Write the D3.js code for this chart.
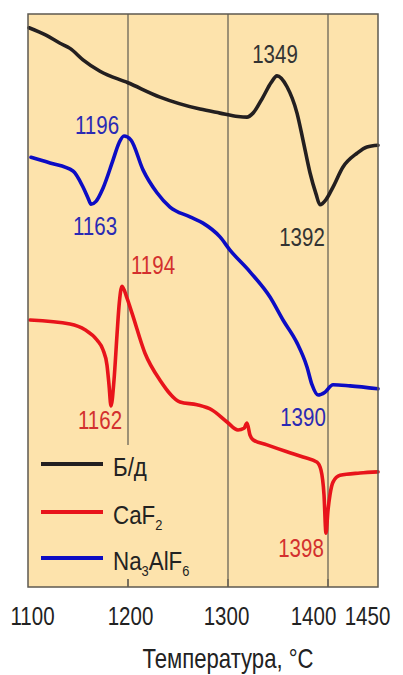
<!DOCTYPE html>
<html>
<head>
<meta charset="utf-8">
<script src="https://cdn.jsdelivr.net/npm/d3@7/dist/d3.min.js"></script>
<style>
  html, body { margin: 0; padding: 0; background: #ffffff; }
  svg { display: block; }
  text { font-family: "Liberation Sans", Arial, sans-serif; }
</style>
</head>
<body>
<svg id="chart" width="403" height="675"></svg>
<script>
// DTA traces: temperature (°C) and signal (arbitrary units, up = exo)
const bdTemp   = [1101,1118,1132,1142,1155,1172,1200,1232,1272,1292,1310,1319,1325,1335,1343,1349,1359,1369,1375,1382,1388,1392,1398,1405,1415,1429,1439,1450];
const bdSignal = [97.6,96.3,94.9,94.0,92.0,90.0,88.0,85.5,83.4,82.7,82.1,82.0,82.7,85.5,88.0,89.2,87.3,82.7,78.0,72.3,68.6,66.7,67.6,69.8,73.3,75.7,76.8,77.1];

const caf2Temp   = [1102,1142,1157,1169,1175,1179,1181,1183,1186,1189,1191,1194,1199,1204,1217,1232,1252,1269,1284,1299,1310,1316,1319,1322,1325,1339,1359,1375,1389,1393,1396,1398,1400,1402,1405,1412,1432,1450];
const caf2Signal = [46.6,45.9,44.9,43.1,41.4,38.7,35.3,31.6,36.1,44.0,49.0,52.5,50.4,47.8,40.8,36.1,32.3,31.8,30.9,28.8,27.4,27.7,28.6,26.5,25.7,24.8,23.6,22.7,21.8,20.4,16.1,9.4,13.4,16.1,18.3,19.5,19.9,20.1];

const cryoTemp   = [1103,1122,1145,1155,1160,1163,1168,1175,1185,1191,1196,1203,1215,1229,1242,1262,1275,1292,1302,1322,1342,1355,1369,1379,1384,1390,1397,1405,1422,1450];
const cryoSignal = [75.0,74.0,72.6,69.8,67.9,66.8,67.3,69.6,74.5,77.5,78.7,78.0,72.8,68.8,66.3,64.6,63.5,61.1,58.8,55.0,50.6,46.6,42.6,38.4,35.3,33.5,34.0,35.3,35.1,34.6];

const seriesNames  = ["Б/д", "CaF2", "Na3AlF6"];
const seriesColors = ["#231f20", "#e8141b", "#0c0cc4"];
const labelColors  = ["#333333", "#d3302e", "#2a2ab4"];

// Peak temperatures written next to the curves
const peakSeries = [0, 0, 2, 2, 1, 1, 2, 1];
const peakTemps  = [1349, 1392, 1196, 1163, 1194, 1183, 1390, 1398];
const peakLabels = ["1349", "1392", "1196", "1163", "1194", "1162", "1390", "1398"];

const tickTemps  = [1100, 1200, 1300, 1400, 1450];
const gridTemps  = [1200, 1300, 1400];
const axisTitle  = "Температура, °C";

const series = [
  bdTemp.map((t, i) => ({ t, v: bdSignal[i] })),
  caf2Temp.map((t, i) => ({ t, v: caf2Signal[i] })),
  cryoTemp.map((t, i) => ({ t, v: cryoSignal[i] }))
];

const svg = d3.select("#chart");
const plot = { left: 28, top: 14, right: 378, bottom: 587 };
const narrow = 0.82; // condensed lettering

const x = d3.scaleLinear().domain([1100, 1450]).range([plot.left, plot.right]);
const y = d3.scaleLinear().domain([0, 100]).range([plot.bottom, plot.top]);

// Plot background
svg.append("rect")
  .attr("x", plot.left).attr("y", plot.top)
  .attr("width", plot.right - plot.left).attr("height", plot.bottom - plot.top)
  .attr("fill", "#fde3ac");

// Vertical grid lines
svg.append("g").selectAll("line").data(gridTemps).join("line")
  .attr("x1", d => x(d)).attr("x2", d => x(d))
  .attr("y1", plot.top).attr("y2", plot.bottom)
  .attr("stroke", "#5e5a50").attr("stroke-width", 1.2);

// Legend backing keeps grid lines out of the legend area
svg.append("rect")
  .attr("x", plot.left + 2).attr("y", 445)
  .attr("width", 190).attr("height", 134)
  .attr("fill", "#fde3ac");

// Bottom tick marks
svg.append("g").selectAll("line").data(gridTemps).join("line")
  .attr("x1", d => x(d)).attr("x2", d => x(d))
  .attr("y1", plot.bottom - 8).attr("y2", plot.bottom)
  .attr("stroke", "#5e5a50").attr("stroke-width", 1.2);

// Curves
const line = d3.line().x(d => x(d.t)).y(d => y(d.v)).curve(d3.curveMonotoneX);
svg.append("g").selectAll("path").data(series).join("path")
  .attr("d", line)
  .attr("fill", "none")
  .attr("stroke", (d, i) => seriesColors[i])
  .attr("stroke-width", 3.6)
  .attr("stroke-linejoin", "round")
  .attr("stroke-linecap", "round");

// Frame
svg.append("rect")
  .attr("x", plot.left).attr("y", plot.top)
  .attr("width", plot.right - plot.left).attr("height", plot.bottom - plot.top)
  .attr("fill", "none").attr("stroke", "#5e5a50").attr("stroke-width", 1.5);

// Peak labels, offset from the curve point they mark
const labelOffsets = [[-2, -13], [-18, 41], [-27, -2], [4, 31], [31, -12], [-11, 23], [-15, 31], [-25, 24]];
peakLabels.forEach((txt, i) => {
  const s = peakSeries[i];
  const pt = series[s].reduce((a, b) => Math.abs(b.t - peakTemps[i]) < Math.abs(a.t - peakTemps[i]) ? b : a);
  const px = x(pt.t) + labelOffsets[i][0];
  const py = y(pt.v) + labelOffsets[i][1];
  svg.append("text")
    .attr("transform", `translate(${px},${py}) scale(${narrow},1)`)
    .attr("text-anchor", "middle")
    .attr("font-size", 25)
    .attr("fill", labelColors[s])
    .text(txt);
});

// Bottom axis with temperature tick labels
const labelShift = { 1100: 4, 1200: 2, 1300: -2, 1400: -15, 1450: -11 };
const axis = svg.append("g")
  .attr("transform", `translate(0,${plot.bottom})`)
  .call(d3.axisBottom(x).tickValues(tickTemps).tickSize(0).tickFormat(d3.format("d")));
axis.select(".domain").remove();
axis.selectAll(".tick text")
  .attr("y", 38).attr("dy", 0)
  .attr("transform", d => `translate(${labelShift[d]},0) scale(${narrow},1)`)
  .attr("font-size", 25)
  .attr("font-family", "Liberation Sans, Arial, sans-serif")
  .attr("fill", "#222");

svg.append("text")
  .attr("transform", `translate(228,668) scale(${narrow},1)`)
  .attr("text-anchor", "middle")
  .attr("font-size", 27)
  .attr("fill", "#222")
  .text(axisTitle);

// Legend
const legendRowY = [464, 512, 558];
const legend = svg.append("g");
seriesNames.forEach((name, i) => {
  legend.append("line")
    .attr("x1", 41).attr("x2", 103)
    .attr("y1", legendRowY[i]).attr("y2", legendRowY[i])
    .attr("stroke", seriesColors[i]).attr("stroke-width", 4);
  const t = legend.append("text")
    .attr("transform", `translate(113,${legendRowY[i] + 12}) scale(0.86,1)`)
    .attr("font-size", 26)
    .attr("fill", "#222");
  // digits in chemical formulas are set as subscripts
  let lowered = false;
  name.split(/(\d)/).filter(p => p.length).forEach(part => {
    const isSub = /^\d$/.test(part);
    const span = t.append("tspan").text(part);
    if (isSub) {
      span.attr("font-size", 15).attr("dy", lowered ? 0 : 6);
      lowered = true;
    } else {
      if (lowered) span.attr("dy", -6);
      lowered = false;
    }
  });
});
</script>
</body>
</html>
